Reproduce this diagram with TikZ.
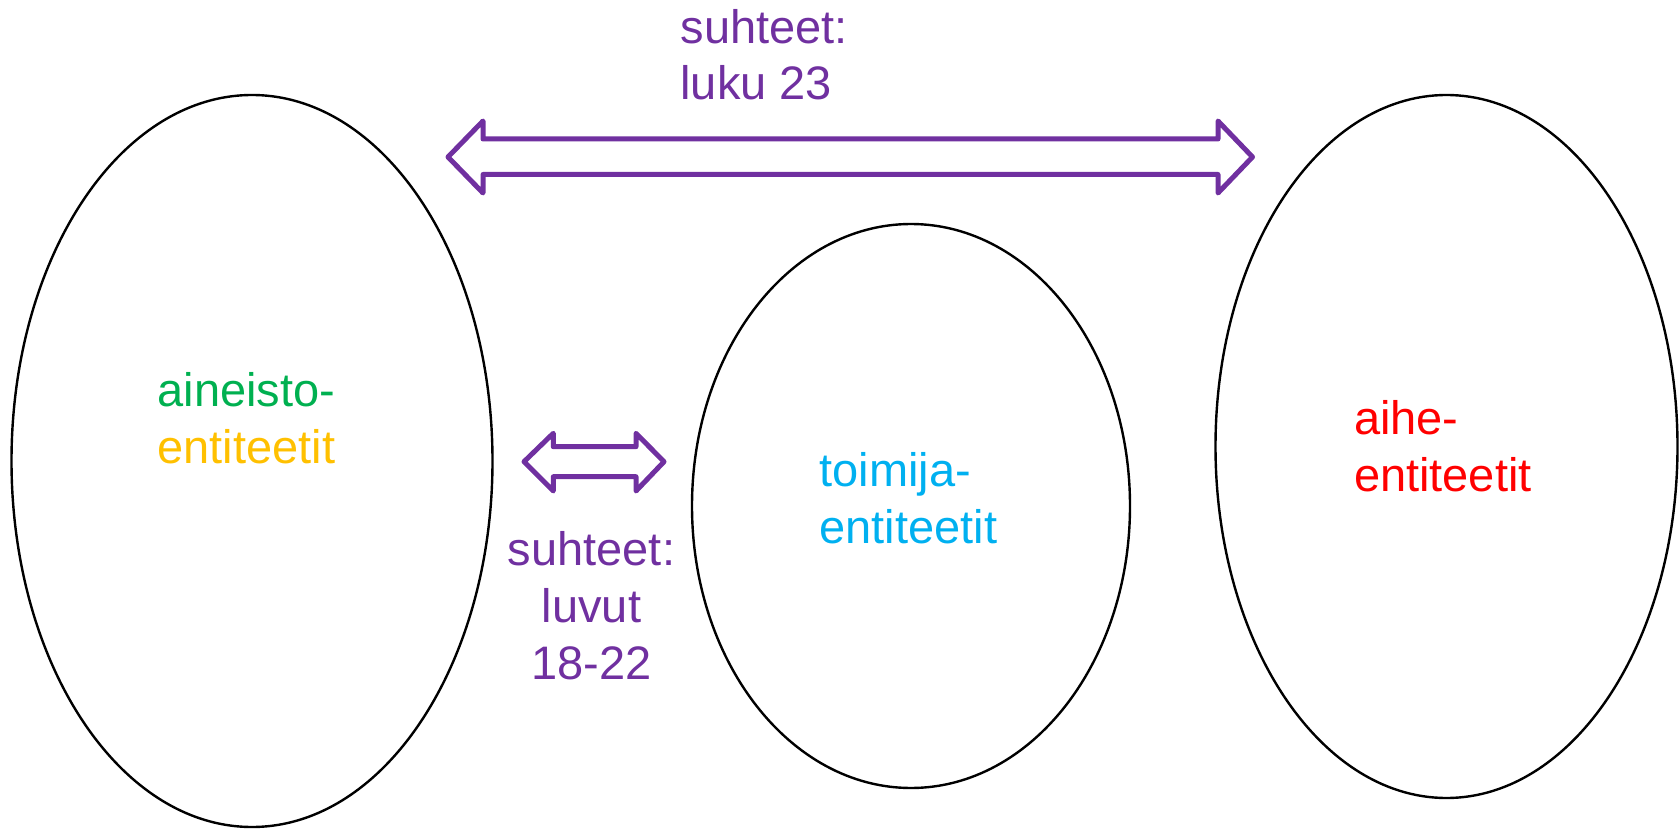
\documentclass[tikz,border=0pt]{standalone}
\usepackage{fontspec}
\setmainfont{Liberation Sans}
\usetikzlibrary{shapes.geometric}
\definecolor{relpurple}{HTML}{7030A0}
\definecolor{entgreen}{HTML}{00B050}
\definecolor{entgold}{HTML}{FFC000}
\definecolor{entblue}{HTML}{00B0F0}
\definecolor{entred}{HTML}{FF0000}
\tikzset{
  entset/.style={draw=black, line width=2.4pt, ellipse, inner sep=0pt, outer sep=0pt},
  lbl/.style={inner sep=0pt, outer sep=0pt, font=\fontsize{47}{56}\selectfont},
  relarrow/.style={draw=relpurple, line width=5pt, line join=round, fill=white}
}
\begin{document}
\begin{tikzpicture}[x=1pt,y=-1pt]
\useasboundingbox (0,0) rectangle (1679,829);
% entity sets
\node[entset, minimum width=481pt, minimum height=732pt] (aineisto) at (252,461) {};
\node[entset, minimum width=438pt, minimum height=564pt] (toimija) at (911,506) {};
\node[entset, minimum width=462pt, minimum height=703pt] (aihe) at (1446.5,446.5) {};
% labels in ellipses
\node[lbl, text=entgreen, anchor=base west] (a1) at (157.5,406.7) {aineisto-};
\node[lbl, text=entgold, anchor=base west] (a2) at (157.5,463.3) {entiteetit};
\node[lbl, text=entblue, anchor=base west] (t1) at (819.5,486.7) {toimija-};
\node[lbl, text=entblue, anchor=base west] (t2) at (819.5,543.3) {entiteetit};
\node[lbl, text=entred, anchor=base west] (h1) at (1354,434.5) {aihe-};
\node[lbl, text=entred, anchor=base west] (h2) at (1354,491) {entiteetit};
% top relation arrow
\coordinate (bigL) at (448,157);
\coordinate (bigR) at (1252.5,157);
\draw[relarrow] (bigL) -- (483,121) -- (483,139) -- (1218,139) -- (1218,121) -- (bigR)
  -- (1218,193) -- (1218,174.5) -- (483,174.5) -- (483,193) -- cycle;
\node[lbl, text=relpurple, anchor=base west] (r1) at (680.5,43.3) {suhteet:};
\node[lbl, text=relpurple, anchor=base west] (r2) at (680.5,100) {luku 23};
% small relation arrow
\coordinate (smL) at (524,461.7);
\coordinate (smR) at (664,461.7);
\draw[relarrow] (smL) -- (553.3,433.3) -- (553.3,446.7) -- (636,446.7) -- (636,433.3) -- (smR)
  -- (636,491) -- (636,476.7) -- (553.3,476.7) -- (553.3,491) -- cycle;
\node[lbl, text=relpurple, anchor=base] (s1) at (591.5,565) {suhteet:};
\node[lbl, text=relpurple, anchor=base] (s2) at (591.5,622) {luvut};
\node[lbl, text=relpurple, anchor=base] (s3) at (591.5,679) {18-22};
\end{tikzpicture}
\end{document}
